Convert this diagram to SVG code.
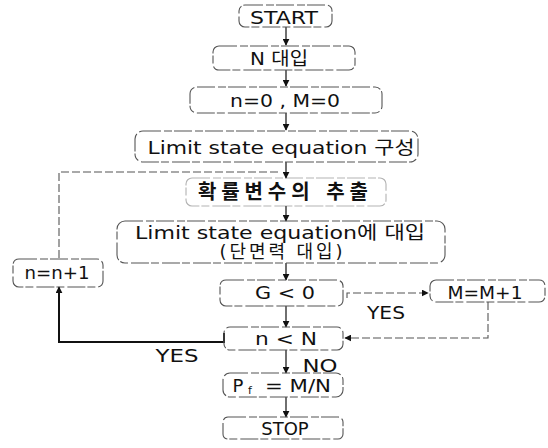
<svg xmlns="http://www.w3.org/2000/svg" width="548" height="448" viewBox="0 0 548 448">
<defs>
<marker id="ah" viewBox="0 0 10 10" refX="9" refY="5" markerWidth="7" markerHeight="7" markerUnits="userSpaceOnUse" orient="auto">
<path d="M0,0 L10,5 L0,10 z" fill="#111"/>
</marker>
<style>
.box{fill:none;stroke:#555;stroke-width:1.1;stroke-dasharray:18 3 8 2}
.t{font-family:"DejaVu Sans","Noto Sans CJK KR",sans-serif;font-size:18px;fill:#111;text-anchor:middle;dominant-baseline:central}
.k{font-weight:bold;font-size:20px}
.c{fill:none;stroke:#222;stroke-width:1.3}
.d{fill:none;stroke:#555;stroke-width:1.1;stroke-dasharray:8 3}
.s{fill:none;stroke:#111;stroke-width:2}
</style>
</defs>
<rect width="548" height="448" fill="#fff"/>
<g id="connectors">
<line class="c" x1="286" y1="27" x2="286" y2="45" marker-end="url(#ah)"/>
<line class="c" x1="286" y1="70" x2="286" y2="86" marker-end="url(#ah)"/>
<line class="c" x1="286" y1="113" x2="286" y2="130" marker-end="url(#ah)"/>
<line class="c" x1="286" y1="162" x2="286" y2="178" marker-end="url(#ah)"/>
<path class="d" d="M59,258 V172 H280"/>
<line class="c" x1="286" y1="206" x2="286" y2="221" marker-end="url(#ah)"/>
<line class="c" x1="286" y1="263" x2="286" y2="280" marker-end="url(#ah)"/>
<line class="c" x1="286" y1="306" x2="286" y2="327" marker-end="url(#ah)"/>
<path class="d" d="M347,298 V293 H428" marker-end="url(#ah)"/>
<path class="d" d="M488,302 V338 H345" marker-end="url(#ah)"/>
<path class="s" d="M224,333 V342 H59 V287" marker-end="url(#ah)"/>
<line class="c" x1="286" y1="350" x2="286" y2="373" marker-end="url(#ah)"/>
<line class="c" x1="286" y1="397" x2="286" y2="417" marker-end="url(#ah)"/>
<text class="t" x="386" y="312" textLength="38" lengthAdjust="spacingAndGlyphs">YES</text>
<text class="t" x="177" y="355" textLength="43" lengthAdjust="spacingAndGlyphs">YES</text>
<text class="t" x="320" y="365" textLength="35" lengthAdjust="spacingAndGlyphs">NO</text>
</g>
<g id="start">
<rect class="box" x="239" y="5" width="93" height="22" rx="6"/>
<text class="t" x="284" y="17" textLength="68" lengthAdjust="spacingAndGlyphs">START</text>
</g>
<g id="n-input">
<rect class="box" x="213" y="46" width="142" height="24" rx="6"/>
<text class="t" x="279" y="58" textLength="58" lengthAdjust="spacingAndGlyphs">N 대입</text>
</g>
<g id="init">
<rect class="box" x="190" y="87" width="192" height="26" rx="7"/>
<text class="t" x="285" y="100" textLength="110" lengthAdjust="spacingAndGlyphs">n=0 , M=0</text>
</g>
<g id="lse">
<rect class="box" x="135" y="131" width="283" height="31" rx="8"/>
<text class="t" x="281" y="147" textLength="267" lengthAdjust="spacingAndGlyphs">Limit state equation 구성</text>
</g>
<g id="sample">
<rect class="box" x="186" y="178" width="200" height="28" rx="6" stroke-opacity="0.45"/>
<text class="t k" x="283" y="192" textLength="170" lengthAdjust="spacing">확률변수의 추출</text>
</g>
<g id="substitute">
<rect class="box" x="117" y="221" width="328" height="42" rx="8"/>
<text class="t" x="280" y="232" textLength="290" lengthAdjust="spacingAndGlyphs">Limit state equation에 대입</text>
<text class="t" x="281" y="251" textLength="123" lengthAdjust="spacing">(단면력 대입)</text>
</g>
<g id="increment-n">
<rect class="box" x="13" y="259" width="90" height="28" rx="6"/>
<text class="t" x="57" y="272" textLength="65" lengthAdjust="spacingAndGlyphs">n=n+1</text>
</g>
<g id="g-check">
<rect class="box" x="220" y="280" width="123" height="26" rx="6"/>
<text class="t" x="285" y="292" textLength="60" lengthAdjust="spacingAndGlyphs">G &lt; 0</text>
</g>
<g id="increment-m">
<rect class="box" x="430" y="280" width="115" height="22" rx="6"/>
<text class="t" x="485" y="292" textLength="75" lengthAdjust="spacingAndGlyphs">M=M+1</text>
</g>
<g id="n-check">
<rect class="box" x="224" y="327" width="119" height="23" rx="6"/>
<text class="t" x="286" y="338" textLength="62" lengthAdjust="spacingAndGlyphs">n &lt; N</text>
</g>
<g id="pf">
<rect class="box" x="223" y="373" width="120" height="24" rx="7"/>
<text class="t" x="238" y="385">P</text>
<text class="t" x="250" y="390" style="font-size:11px">f</text>
<text class="t" x="298" y="385" textLength="66" lengthAdjust="spacingAndGlyphs">= M/N</text>
</g>
<g id="stop">
<rect class="box" x="223" y="417" width="120" height="22" rx="5"/>
<text class="t" x="285" y="428">STOP</text>
</g>
</svg>
